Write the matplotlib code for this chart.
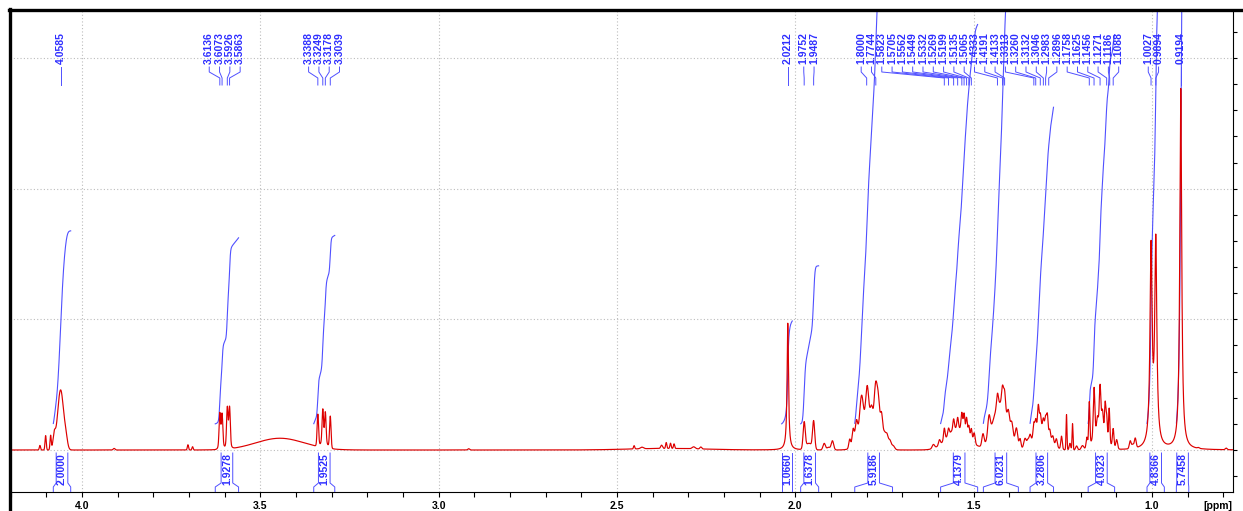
import numpy as np
import matplotlib
matplotlib.use("Agg")
import matplotlib.pyplot as plt
from matplotlib.lines import Line2D
from matplotlib.ticker import MultipleLocator, FormatStrFormatter, NullFormatter

plt.rcParams['font.family'] = ['Liberation Sans', 'DejaVu Sans']

# ---------------- spectrum: multiplet lines (Gaussian) ----------------
g_shift = [4.1180, 4.1020, 4.0880, 4.0780, 4.0600, 4.0450, 3.9100, 3.7030, 3.6900,
           3.6136, 3.6073, 3.5926, 3.5863, 3.6100, 3.5895, 3.4450,
           3.3388, 3.3249, 3.3178, 3.3039, 3.3210, 2.9160,
           2.3600, 2.4520, 2.4300, 2.3750, 2.3620, 2.3500, 2.3400, 2.2850, 2.2650,
           1.9752, 1.9487, 1.9620, 1.9190, 1.9070, 1.8960,
           1.7920, 1.8475, 1.8380, 1.8287, 1.8146, 1.7986, 1.7865, 1.7744, 1.7670,
           1.7584, 1.7500, 1.7430, 1.7350, 1.7260,
           1.5450, 1.6130, 1.5960, 1.5823, 1.5705, 1.5562, 1.5449, 1.5332, 1.5269,
           1.5199, 1.5135, 1.5065, 1.4985,
           1.4250, 1.4740, 1.4570, 1.4333, 1.4191, 1.4133, 1.4025, 1.3930, 1.3800,
           1.3700, 1.3560, 1.3480,
           1.3100, 1.3420, 1.3313, 1.3260, 1.3188, 1.3132, 1.3046, 1.2983, 1.2935,
           1.2865, 1.2780, 1.2680, 1.2537, 1.2397, 1.2300, 1.2228, 1.2115, 1.1950,
           1.1450, 1.1826, 1.1758, 1.1625, 1.1530, 1.1456, 1.1390, 1.1312, 1.1271,
           1.1200, 1.1088, 1.0990,
           1.0610, 1.0540, 1.0470, 0.8700, 0.7920]
g_height = [0.035, 0.11, 0.11, 0.10, 0.46, 0.06, 0.012, 0.04, 0.025,
            0.24, 0.23, 0.28, 0.28, 0.05, 0.05, 0.09,
            0.24, 0.25, 0.23, 0.24, 0.05, 0.01,
            0.012, 0.025, 0.012, 0.025, 0.045, 0.04, 0.035, 0.015, 0.015,
            0.20, 0.21, 0.05, 0.05, 0.02, 0.07,
            0.22, 0.07, 0.13, 0.16, 0.28, 0.28, 0.12, 0.34, 0.22,
            0.20, 0.08, 0.09, 0.06, 0.03,
            0.17, 0.03, 0.04, 0.09, 0.05, 0.08, 0.08, 0.13, 0.14,
            0.13, 0.09, 0.09, 0.08,
            0.36, 0.09, 0.15, 0.10, 0.14, 0.14, 0.10, 0.10, 0.13,
            0.07, 0.07, 0.04,
            0.18, 0.06, 0.10, 0.10, 0.18, 0.10, 0.07, 0.10, 0.14,
            0.06, 0.05, 0.06, 0.10, 0.27, 0.05, 0.20, 0.03, 0.03,
            0.20, 0.08, 0.33, 0.36, 0.08, 0.30, 0.12, 0.22, 0.15,
            0.25, 0.14, 0.07,
            0.06, 0.03, 0.075, 0.006, 0.012]
g_width = [0.004, 0.004, 0.004, 0.008, 0.020, 0.010, 0.006, 0.004, 0.004,
           0.0048, 0.0048, 0.0048, 0.0048, 0.014, 0.014, 0.16,
           0.0048, 0.0048, 0.0048, 0.0048, 0.022, 0.006,
           0.25, 0.004, 0.010, 0.006, 0.004, 0.004, 0.004, 0.010, 0.006,
           0.007, 0.007, 0.020, 0.008, 0.010, 0.008,
           0.055, 0.006, 0.007, 0.008, 0.012, 0.010, 0.008, 0.010, 0.008,
           0.008, 0.008, 0.008, 0.008, 0.010,
           0.070, 0.008, 0.006, 0.005, 0.005, 0.005, 0.005, 0.005, 0.005,
           0.005, 0.005, 0.005, 0.006,
           0.050, 0.007, 0.008, 0.006, 0.006, 0.006, 0.007, 0.008, 0.008,
           0.006, 0.008, 0.006,
           0.050, 0.006, 0.005, 0.005, 0.005, 0.005, 0.005, 0.005, 0.005,
           0.005, 0.006, 0.006, 0.005, 0.003, 0.005, 0.003, 0.006, 0.008,
           0.040, 0.005, 0.004, 0.005, 0.005, 0.005, 0.005, 0.004, 0.004,
           0.004, 0.005, 0.006,
           0.006, 0.006, 0.006, 0.006, 0.006]

# ---------------- spectrum: sharp lines (Lorentzian) ----------------
l_shift = [2.0212, 1.0027, 0.9894, 0.9194]
l_height = [0.97, 1.50, 1.55, 2.76]
l_width = [0.0047, 0.0070, 0.0070, 0.0063]

# ---------------- peak picking ----------------
peak_labels = [4.0585,
               3.6136, 3.6073, 3.5926, 3.5863,
               3.3388, 3.3249, 3.3178, 3.3039,
               2.0212,
               1.9752, 1.9487,
               1.8000, 1.7744, 1.5823, 1.5705, 1.5562, 1.5449, 1.5332, 1.5269, 1.5199,
               1.5135, 1.5065, 1.4333, 1.4191, 1.4133, 1.3313, 1.3260, 1.3132, 1.3046,
               1.2983, 1.2896, 1.1758, 1.1625, 1.1456, 1.1271, 1.1186, 1.1088,
               1.0027, 0.9894,
               0.9194]
label_runs = [1, 4, 4, 1, 2, 26, 2, 1]

# ---------------- integrals ----------------
int_from = [4.0805, 3.6264, 3.3503, 2.0382, 1.9851, 1.8334, 1.5927, 1.4728, 1.3419, 1.1790, 1.0140, 0.9317]
int_to = [4.0317, 3.5610, 3.2913, 2.0084, 1.9346, 1.7275, 1.4888, 1.3747, 1.2761, 1.1048, 0.9654, 0.8969]
int_value = [2.0000, 1.9278, 1.9525, 1.0660, 1.6378, 5.9186, 4.1379, 6.0231, 3.2806, 4.0323, 4.8366, 5.7458]

# ---------------- build the trace ----------------
ppm = np.arange(4.2100, 0.7650, -0.0002)
spec = np.zeros_like(ppm)
for c, h, w in zip(g_shift, g_height, g_width):
    spec += h * np.exp(-4 * np.log(2) * (ppm - c) ** 2 / w ** 2)
for c, h, w in zip(l_shift, l_height, l_width):
    hw = w / 2
    spec += h * hw ** 2 / ((ppm - c) ** 2 + hw ** 2)

RED = '#dd0000'
BLUE_TXT = '#2e2eff'
BLUE_LN = '#5050ff'
GRID = '#bcbcbc'

fig = plt.figure(figsize=(12.43, 5.11), dpi=100)
ax = fig.add_axes([10 / 1243, 19 / 511, 1223 / 1243, 482 / 511])
ax.set_xlim(4.2019, 0.7729)
ax.set_ylim(-0.3214, 3.367)

# dotted grid
for v in [0, 1, 2, 3]:
    ax.axhline(v, color=GRID, lw=0.8, ls=(0, (1, 2)), zorder=0)
for v in np.arange(1.0, 4.01, 0.5):
    ax.axvline(v, color=GRID, lw=0.8, ls=(0, (1, 2)), zorder=0)

# integral curves
int_offset = 0.20
int_scale = 0.7385
for a, b, val in zip(int_from, int_to, int_value):
    m = (ppm <= a) & (ppm >= b)
    cum = np.cumsum(spec[m])
    cum = cum / cum[-1]
    ax.plot(ppm[m], int_offset + int_scale * val * cum, color=BLUE_LN, lw=0.8, zorder=2)

# spectrum
ax.plot(ppm, spec, color=RED, lw=0.85, zorder=3)

# peak labels with connectors
tx = ax.get_xaxis_transform()
label_pitch = 0.02888
slots = []
i = 0
for n in label_runs:
    grp = peak_labels[i:i + n]
    mid = (grp[0] + grp[-1]) / 2
    for k in range(n):
        slots.append(mid + ((n - 1) / 2 - k) * label_pitch)
    i += n
for p, s in zip(peak_labels, slots):
    ax.text(s, 0.887, f'{p:.4f}', rotation=90, ha='center', va='bottom',
            fontsize=7.5, fontweight='bold', color=BLUE_TXT, transform=tx, zorder=5)
    ax.plot([s, s, p, p], [0.8817, 0.8714, 0.8589, 0.8444], color=BLUE_LN,
            lw=0.7, transform=tx, zorder=4, clip_on=False)

# integral brackets and values
box_half = 0.0163
for a, b, val in zip(int_from, int_to, int_value):
    mid = (a + b) / 2
    bl = min(a, mid + box_half)
    br = max(b, bl - 2 * box_half)
    ax.plot([a, a, bl, bl], [0.0, 0.0104, 0.0187, 0.0809], color=BLUE_LN, lw=0.7,
            transform=tx, zorder=4)
    ax.plot([b, b, br, br], [0.0, 0.0104, 0.0187, 0.0809], color=BLUE_LN, lw=0.7,
            transform=tx, zorder=4)
    ax.text((bl + br) / 2, 0.048, f'{val:.4f}', rotation=90, ha='center', va='center',
            fontsize=7.5, fontweight='bold', color=BLUE_TXT, transform=tx, zorder=5)

# axes styling
for side in ['left', 'top']:
    ax.spines[side].set_visible(False)
for side in ['right', 'bottom']:
    ax.spines[side].set_linewidth(0.8)
    ax.spines[side].set_color('black')

ax.xaxis.set_major_locator(MultipleLocator(0.5))
ax.xaxis.set_minor_locator(MultipleLocator(0.1))
ax.xaxis.set_major_formatter(FormatStrFormatter('%.1f'))
ax.tick_params(axis='x', which='both', direction='out', length=3.6, width=0.8,
               labelsize=7.5, pad=3.0, top=False)
for lbl in ax.get_xticklabels():
    lbl.set_fontweight('bold')

ax.yaxis.tick_right()
ax.set_yticks(np.arange(-0.2, 3.21, 0.2))
ax.yaxis.set_major_formatter(NullFormatter())
ax.tick_params(axis='y', which='both', direction='out', length=3.0, width=0.8, left=False)

ax.text(0.9879, -0.0285, '[ppm]', transform=ax.transAxes, ha='center', va='center',
        fontsize=7.5, fontweight='bold')

# heavy frame on left and top
fig.add_artist(Line2D([10 / 1243, 10 / 1243], [0, 1 - 9.5 / 511], color='black', lw=2.4,
                      transform=fig.transFigure))
fig.add_artist(Line2D([9 / 1243, 1], [1 - 10 / 511, 1 - 10 / 511], color='black', lw=2.4,
                      transform=fig.transFigure))

fig.savefig('out.png', dpi=100, facecolor='white')
